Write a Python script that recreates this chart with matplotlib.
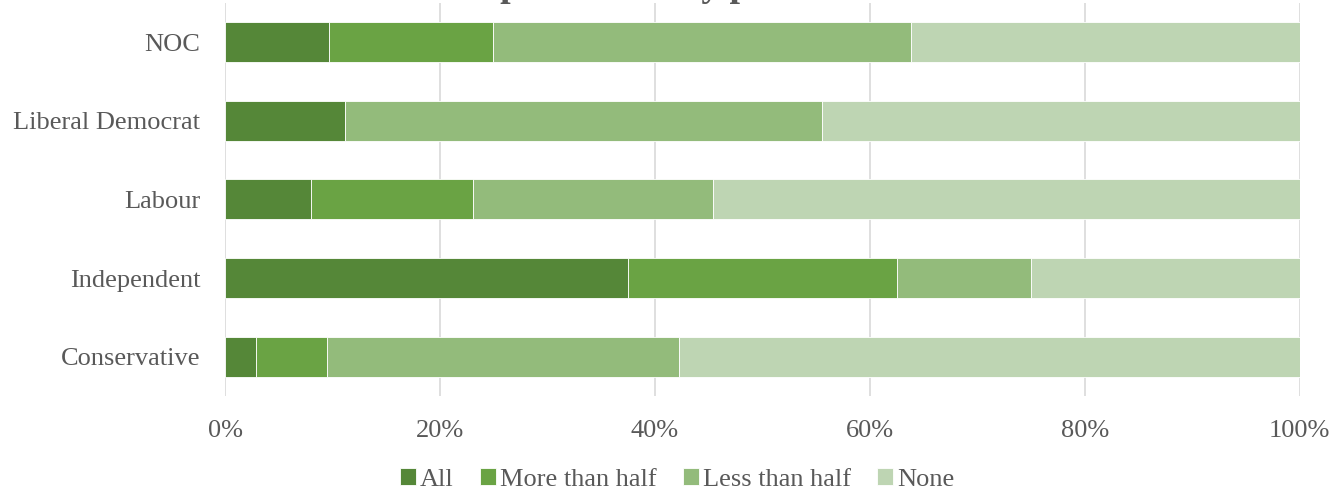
import numpy as np
import matplotlib
matplotlib.use("Agg")
import matplotlib.pyplot as plt
from matplotlib.ticker import PercentFormatter

plt.rcParams['font.family'] = ['Liberation Serif', 'DejaVu Serif']

# data (percent of councils in each party group)
parties = ['Conservative', 'Independent', 'Labour', 'Liberal Democrat', 'NOC']
series = ['All', 'More than half', 'Less than half', 'None']
all_ = [2.9, 37.5, 8.0, 11.1, 9.7]
more_half = [6.6, 25.0, 15.1, 0.0, 15.2]
less_half = [32.7, 12.5, 22.3, 44.4, 38.9]
none = [57.8, 25.0, 54.6, 44.5, 36.2]
colors = ['#558738', '#6aa344', '#93bb7b', '#bed5b3']

fig = plt.figure(figsize=(13.33, 4.9), dpi=100)
ax = fig.add_axes([0.169, 0.192, 0.806, 0.802])

y = np.arange(len(parties))
left = np.zeros(len(parties))
for name, vals, c in zip(series, [all_, more_half, less_half, none], colors):
    ax.barh(y, vals, left=left, height=0.51, color=c, edgecolor='white',
            linewidth=0.6, label=name, zorder=3)
    left += np.array(vals)

ax.set_xlim(0, 100)
ax.set_ylim(-0.5, len(parties) - 0.5)
ax.set_yticks(y)
ax.set_yticklabels(parties)
ax.set_xticks(np.arange(0, 101, 20))
ax.xaxis.set_major_formatter(PercentFormatter(decimals=0))
ax.grid(axis='x', color='#d9d9d9', linewidth=1.2, zorder=0)
for s in ax.spines.values():
    s.set_visible(False)
ax.tick_params(length=0, labelsize=19, colors='#595959')
ax.tick_params(axis='y', pad=18)
ax.tick_params(axis='x', pad=17)

# title is cut off by the top edge in the original, only descenders show
fig.text(0.333, 1.008, 'Scope covered by political control', ha='left',
         va='baseline', fontsize=27, fontweight='bold', color='#595959')

fig.legend(loc='lower center', ncol=4, frameon=False, fontsize=19,
           handlelength=0.6, handleheight=0.6, handletextpad=0.15,
           columnspacing=1.0, labelcolor='#595959',
           bbox_to_anchor=(0.508, -0.05))

fig.savefig('out.png', dpi=100)
